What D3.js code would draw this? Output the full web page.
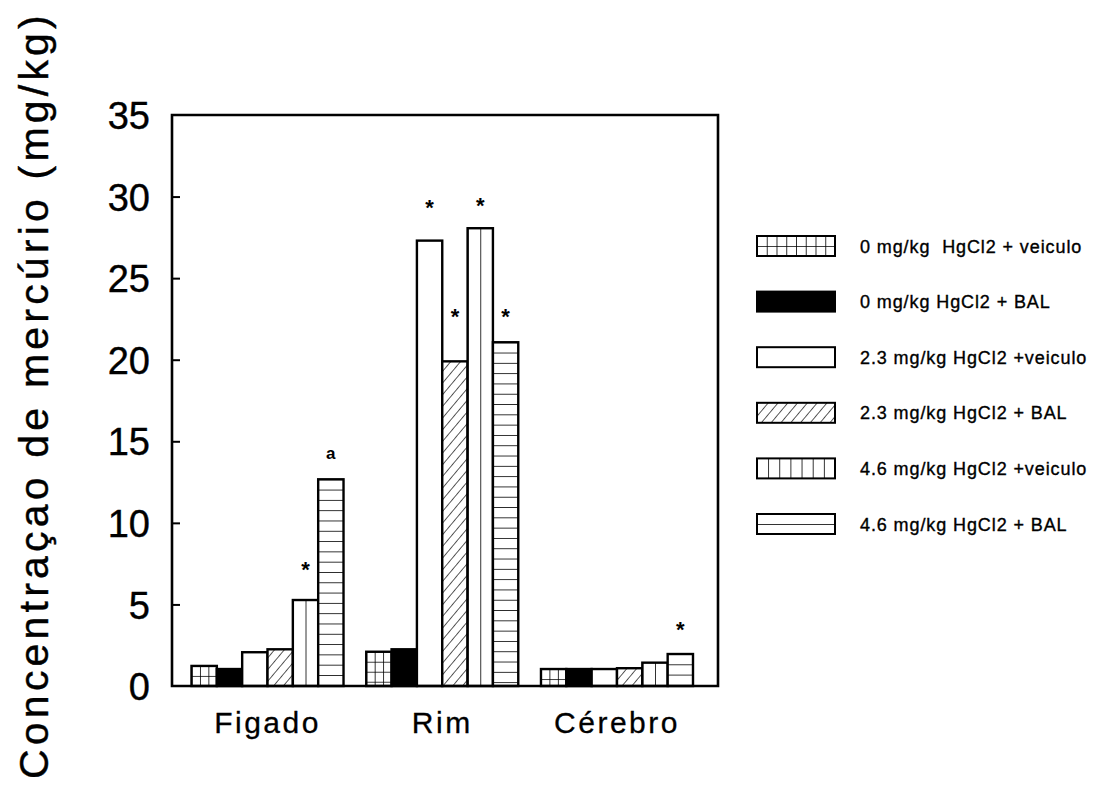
<!DOCTYPE html>
<html>
<head>
<meta charset="utf-8">
<script src="https://cdn.jsdelivr.net/npm/d3@7"></script>
<style>
  body { margin: 0; background: #fff; }
  svg { display: block; }
  text { font-family: "Liberation Sans", Arial, Helvetica, sans-serif; fill: #000; }
</style>
</head>
<body>
<svg id="chart" width="1097" height="798"></svg>
<script>
// Tissues (x groups) and treatment series
const organs = ["Figado", "Rim", "Cérebro"];
const seriesNames = [
  "0 mg/kg  HgCl2 + veiculo",
  "0 mg/kg HgCl2 + BAL",
  "2.3 mg/kg HgCl2 +veiculo",
  "2.3 mg/kg HgCl2 + BAL",
  "4.6 mg/kg HgCl2 +veiculo",
  "4.6 mg/kg HgCl2 + BAL"
];
const seriesFills = ["grid", "solid", "blank", "hatch", "vlines", "hlines"];

// Mercury concentration (mg/kg) per tissue, one value per series
const figadoValues  = [1.23, 1.04, 2.07, 2.25, 5.27, 12.67];
const rimValues     = [2.10, 2.25, 27.3, 19.9, 28.06, 21.07];
const cerebroValues = [1.04, 1.04, 1.04, 1.09, 1.43, 1.96];

const yTicks = [0, 5, 10, 15, 20, 25, 30, 35];

// Significance marks: tissue, series index, symbol, level (mg/kg) where it sits
const sigOrgan  = ["Figado", "Figado", "Rim", "Rim", "Rim", "Rim", "Cérebro"];
const sigSeries = [4, 5, 2, 3, 4, 5, 5];
const sigText   = ["*", "a", "*", "*", "*", "*", "*"];
const sigLevel  = [7.4, 14.2, 29.6, 22.95, 29.7, 22.95, 3.75];

const valuesByOrgan = { "Figado": figadoValues, "Rim": rimValues, "Cérebro": cerebroValues };

const svg = d3.select("#chart");
const box = { left: 172, right: 718, top: 115, bottom: 686 };

const y = d3.scaleLinear().domain([0, 35]).range([box.bottom, box.top]);
const x0 = d3.scaleBand().domain(organs).range([191.5, 693]).paddingInner(0.13);
const x1 = d3.scaleBand().domain(d3.range(seriesNames.length)).range([0, x0.bandwidth()]);

const defs = svg.append("defs");

// Build a fill pattern anchored at (ox, oy)
function makePattern(id, type, ox, oy, dx, dy) {
  const p = defs.append("pattern").attr("id", id).attr("patternUnits", "userSpaceOnUse");
  if (type === "grid") {
    p.attr("x", ox).attr("y", oy).attr("width", dx).attr("height", dy);
    p.append("rect").attr("width", dx).attr("height", dy).attr("fill", "#fff");
    p.append("path").attr("d", `M0,0V${dy}M0,0H${dx}`).attr("stroke", "#000").attr("stroke-width", 1.6);
  } else if (type === "vlines") {
    p.attr("x", ox).attr("y", oy).attr("width", dx).attr("height", 10);
    p.append("rect").attr("width", dx).attr("height", 10).attr("fill", "#fff");
    p.append("path").attr("d", `M0,0V10`).attr("stroke", "#000").attr("stroke-width", 1.6);
  } else if (type === "hlines") {
    p.attr("x", ox).attr("y", oy).attr("width", 10).attr("height", dy);
    p.append("rect").attr("width", 10).attr("height", dy).attr("fill", "#fff");
    p.append("path").attr("d", `M0,0H10`).attr("stroke", "#000").attr("stroke-width", 1.6);
  } else if (type === "hatch") {
    p.attr("x", ox).attr("y", oy).attr("width", dx).attr("height", 10)
      .attr("patternTransform", "rotate(40)");
    p.append("rect").attr("width", dx).attr("height", 10).attr("fill", "#fff");
    p.append("path").attr("d", `M0,0V10`).attr("stroke", "#000").attr("stroke-width", 1.3);
  }
  return `url(#${id})`;
}

function fillFor(type, id, ox, oy, w, h, legend) {
  if (type === "solid") return "#000";
  if (type === "blank") return "#fff";
  if (type === "grid") return makePattern(id, type, ox, oy, legend ? w / 8 : w / 3, legend ? h / 2 : 10);
  if (type === "vlines") return makePattern(id, type, ox, oy, legend ? w / 7 : w / 2, 0);
  if (type === "hlines") return makePattern(id, type, ox, oy, 0, legend ? h / 2 : 10.3);
  if (type === "hatch") return makePattern(id, type, ox, oy, 7.5, 0);
}

// Bars
const barData = [];
organs.forEach((org, gi) => {
  valuesByOrgan[org].forEach((v, si) => barData.push({ org, gi, si, v }));
});

const gBars = svg.append("g");
gBars.selectAll("rect.bar")
  .data(barData)
  .join("rect")
  .attr("class", "bar")
  .attr("x", d => x0(d.org) + x1(d.si))
  .attr("y", d => y(d.v))
  .attr("width", x1.bandwidth())
  .attr("height", d => y(0) - y(d.v))
  .attr("fill", d => {
    const bx = x0(d.org) + x1(d.si);
    return fillFor(seriesFills[d.si], `p-bar-${d.gi}-${d.si}`, bx, y(d.v), x1.bandwidth(), y(0) - y(d.v), false);
  })
  .attr("stroke", "#000")
  .attr("stroke-width", 2.4);

// Significance symbols
const sigData = sigOrgan.map((o, i) => ({ o, s: sigSeries[i], t: sigText[i], lv: sigLevel[i] }));
svg.append("g").selectAll("text")
  .data(sigData)
  .join("text")
  .attr("x", d => x0(d.o) + x1(d.s) + x1.bandwidth() / 2)
  .attr("y", d => d.t === "*" ? y(d.lv) + 12 : y(d.lv) + 5)
  .attr("text-anchor", "middle")
  .attr("font-size", d => d.t === "*" ? 22 : 17)
  .attr("font-weight", "bold")
  .text(d => d.t);

// Frame
const frame = svg.append("g").attr("fill", "none").attr("stroke", "#000");
frame.append("path")
  .attr("d", `M${box.left},${box.top}H${box.right}V${box.bottom}H${box.left}Z`)
  .attr("stroke-width", 2.6);

// Left axis: inward ticks and labels
const yAxis = d3.axisLeft(y).tickValues(yTicks).tickSize(-8).tickPadding(22).tickFormat(d3.format("d"));
const gy = svg.append("g").attr("transform", `translate(${box.left},0)`).call(yAxis);
gy.select(".domain").remove();
gy.selectAll(".tick line").attr("stroke", "#000").attr("stroke-width", 2)
  .filter(d => d === 0 || d === 35).remove();
gy.selectAll(".tick text")
  .attr("font-family", "'Liberation Sans', Arial, sans-serif")
  .attr("font-size", 38)
  .attr("fill", "#000")
  .attr("stroke", "#000")
  .attr("stroke-width", 0.4)
  .attr("dy", "0.36em")
  .attr("dx", 0);

// Tissue labels under the groups
const xAxis = d3.axisBottom(x0).tickSize(0).tickPadding(0);
const gx = svg.append("g").attr("transform", `translate(0,${box.bottom})`).call(xAxis);
gx.select(".domain").remove();
gx.selectAll(".tick text")
  .attr("font-family", "'Liberation Sans', Arial, sans-serif")
  .attr("font-size", 30)
  .attr("letter-spacing", 2.5)
  .attr("fill", "#000")
  .attr("stroke", "#000")
  .attr("stroke-width", 0.3)
  .attr("y", 47)
  .attr("dy", 0);

// Y axis title
svg.append("text")
  .attr("transform", "translate(48,395) rotate(-90)")
  .attr("text-anchor", "middle")
  .attr("font-size", 41)
  .attr("letter-spacing", 4.2)
  .attr("stroke", "#000")
  .attr("stroke-width", 0.4)
  .text("Concentraçao de mercúrio (mg/kg)");

// Legend
const legend = { x: 757, y: 246, step: 55.6, w: 78, h: 20 };
const lg = svg.append("g");
seriesNames.forEach((name, i) => {
  const cy = legend.y + i * legend.step;
  const sx = legend.x, sy = cy - legend.h / 2;
  lg.append("rect")
    .attr("x", sx).attr("y", sy)
    .attr("width", legend.w).attr("height", legend.h)
    .attr("fill", fillFor(seriesFills[i], `p-leg-${i}`, sx, sy, legend.w, legend.h, true))
    .attr("stroke", "#000").attr("stroke-width", 2);
  lg.append("text")
    .attr("x", 860).attr("y", cy + 6.5)
    .attr("font-size", 18)
    .attr("letter-spacing", 0.9)
    .attr("stroke", "#000")
    .attr("stroke-width", 0.35)
    .attr("xml:space", "preserve")
    .style("white-space", "pre")
    .text(name);
});
</script>
</body>
</html>
